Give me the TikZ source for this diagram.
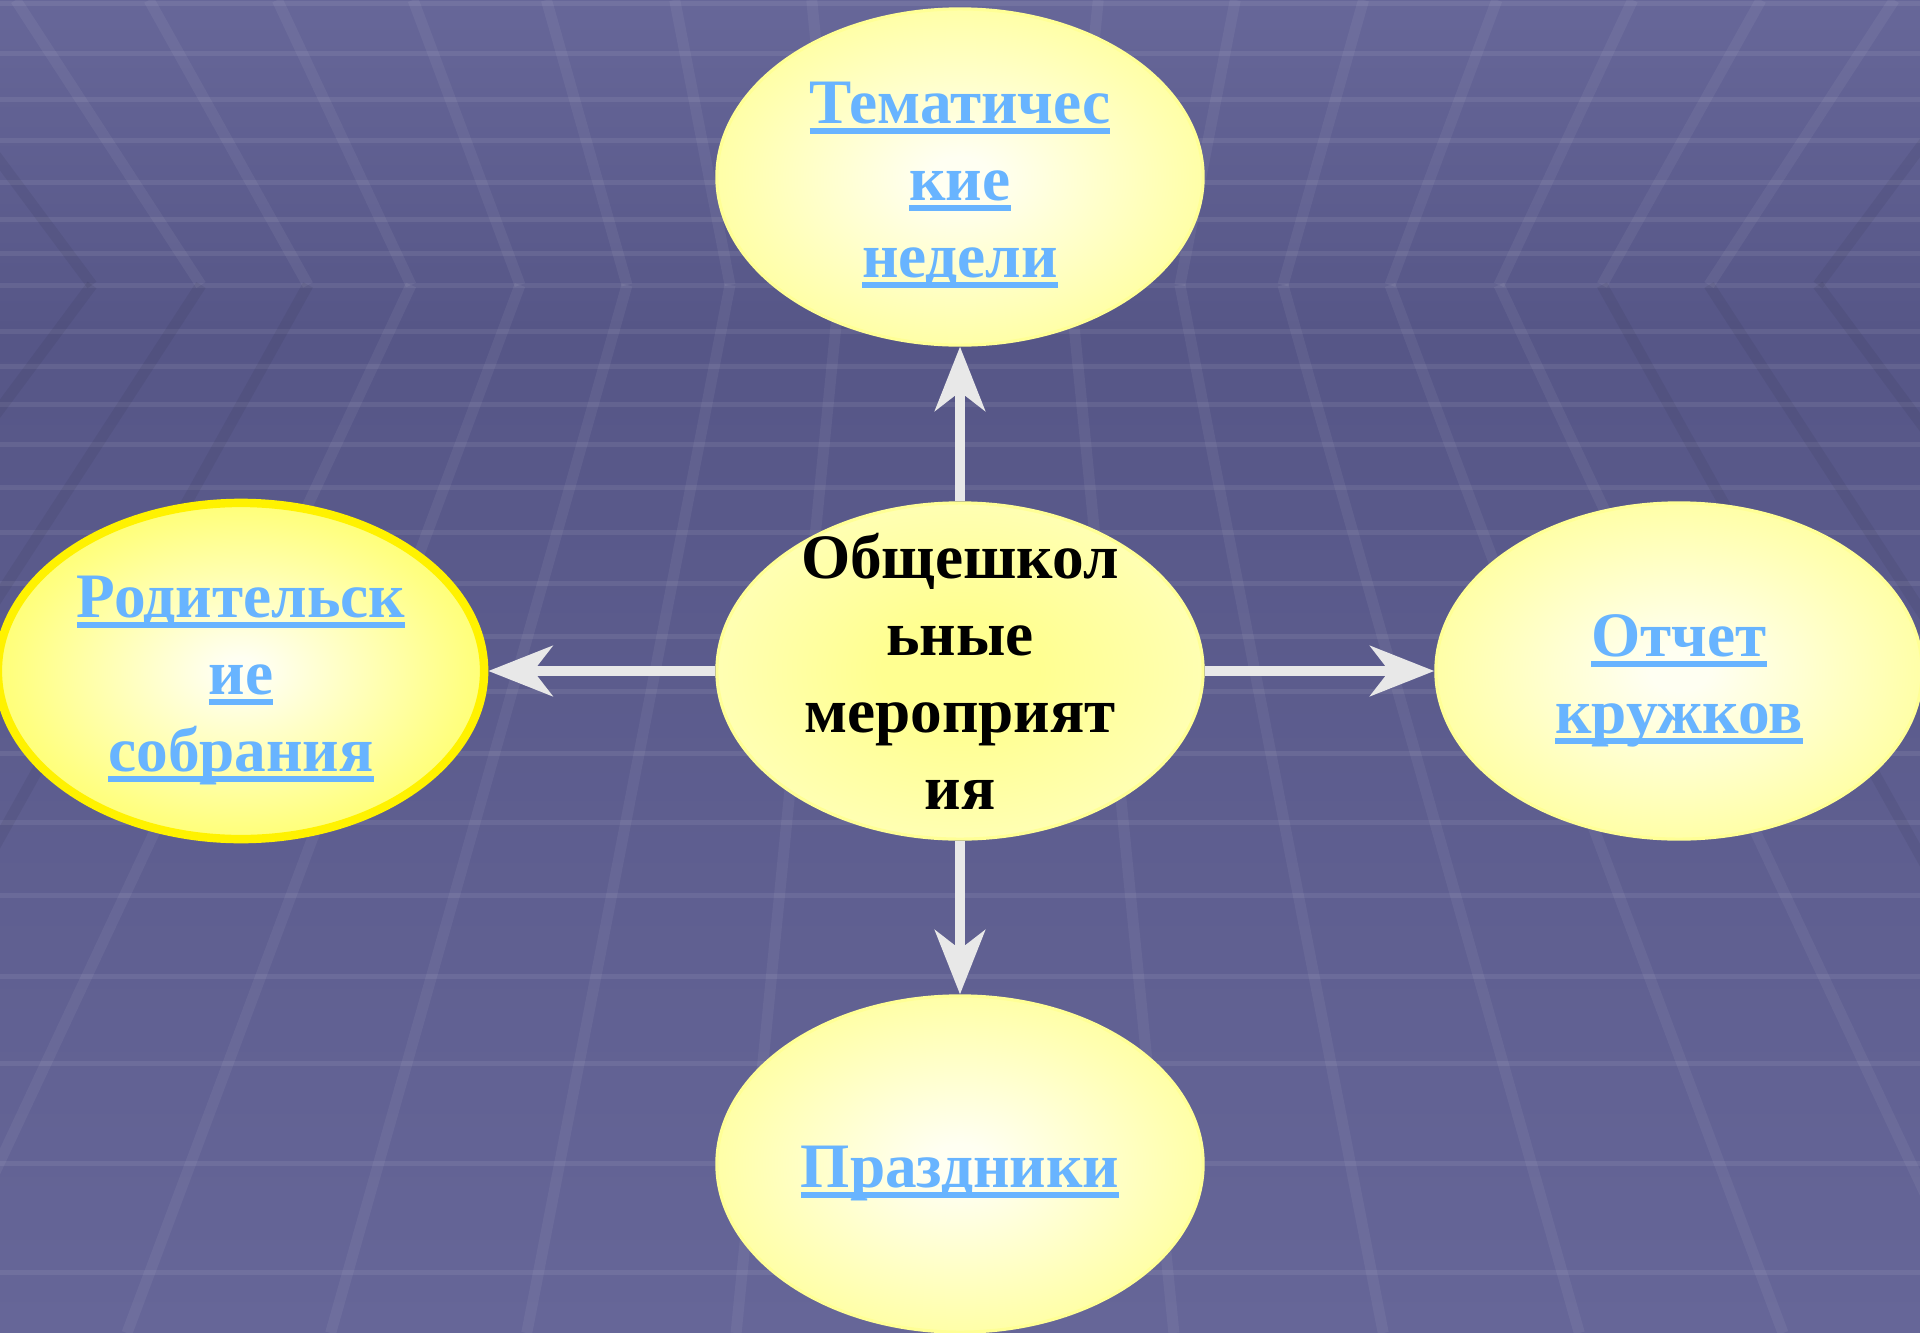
\documentclass[tikz,border=0pt]{standalone}
\usepackage{fontspec}
\setmainfont{Liberation Serif}
\usepackage{xcolor}
\usepackage{tikz}
\usetikzlibrary{shapes.geometric,arrows.meta}

\definecolor{bgtop}{RGB}{103,103,153}
\definecolor{bgmid}{RGB}{86,86,135}
\definecolor{bgbot}{RGB}{102,102,152}
\definecolor{linkblue}{RGB}{104,180,255}
\definecolor{arrowgray}{RGB}{232,232,232}
\definecolor{paleyellow}{RGB}{255,255,110}
\definecolor{creamwhite}{RGB}{255,255,242}
\definecolor{brightyellow}{RGB}{255,255,40}
\definecolor{rimyellow}{RGB}{255,255,150}
\definecolor{hubcore}{RGB}{255,255,145}
\definecolor{hubedge}{RGB}{255,255,228}

\pgfdeclareradialshading{bubbleglow}{\pgfpoint{0bp}{0bp}}{color(0bp)=(creamwhite); color(3bp)=(creamwhite); color(42bp)=(paleyellow); color(72bp)=(paleyellow)}
\pgfdeclareradialshading{parentglow}{\pgfpoint{0bp}{0bp}}{color(0bp)=(creamwhite); color(2bp)=(creamwhite); color(40bp)=(brightyellow); color(72bp)=(brightyellow)}
\pgfdeclareradialshading{hubglow}{\pgfpoint{0bp}{0bp}}{color(0bp)=(hubcore); color(8bp)=(hubcore); color(50bp)=(hubedge); color(72bp)=(hubedge)}

\newsavebox\linkbox
\newcommand\ulink[1]{\sbox\linkbox{#1}\rlap{\rule[-0.16em]{\wd\linkbox}{0.095em}}\usebox\linkbox}

\begin{document}
\begin{tikzpicture}[x=0.01cm, y=-0.01cm,
        bubble/.style={ellipse, minimum width=4.86cm, minimum height=3.36cm, inner sep=0pt, draw=rimyellow, line width=0.9pt, shade, shading=bubbleglow},
        parent/.style={bubble, draw=yellow, line width=2.4pt, shading=parentglow},
        hub/.style={bubble, shading=hubglow},
        words/.style={align=center, text depth=0pt, font=\bfseries\fontsize{18}{21.9}\selectfont},
        linkwords/.style={words, text=linkblue, yshift=-0.03cm},
        spoke/.style={draw=arrowgray, line width=0.1cm, -{Stealth[length=0.64cm, width=0.5cm, inset=0.19cm]}},
        rung/.style={draw=white, draw opacity=0.075, line width=0.05cm},
        rail/.style={draw opacity=0.055, line width=0.11cm}]
        \useasboundingbox (0,0) rectangle (1920,1333);
        \shade[top color=bgtop, bottom color=bgmid] (0,0) rectangle (1920,330);
        \shade[top color=bgmid, bottom color=bgbot] (0,330) rectangle (1920,1333);
        \foreach \y in {3,53,99,140,182,219,253,285,331,366,404,444,487,532,583,636,691,753,822,895,976,1063,1163,1272}
            \draw[rung] (0,\y) -- (1920,\y);
        \foreach \xh/\cu/\cl in {92/black/black, 201/white/black, 308/white/black, 411/white/white, 520/white/white, 627/white/white, 730/white/white, 840/white/white, 1070/white/white, 1180/white/white, 1283/white/white, 1390/white/white, 1499/white/white, 1602/white/black, 1709/white/black, 1818/black/black} {
            \pgfmathsetmacro\sl{(955-\xh)/1160}
            \draw[rail, draw=\cu] (\xh-\sl*285,0) -- (\xh,285);
            \draw[rail, draw=\cl] (\xh,285) -- (\xh-\sl*1048,1333);
        }

        \node[hub] (hub) at (960,671) {};
        \node[bubble] (topic) at (960,177) {};
        \node[parent] (parents) at (241,671) {};
        \node[bubble] (clubs) at (1679,671) {};
        \node[bubble] (holidays) at (960,1164) {};

        \node[words] (hubtext) at (hub) {Общешкол\\ьные\\мероприят\\ия};
        \node[linkwords] (topictext) at (topic) {\ulink{Тематичес}\\\ulink{кие}\\\ulink{недели}};
        \node[linkwords] (parentstext) at (parents) {\ulink{Родительск}\\\ulink{ие}\\\ulink{собрания}};
        \node[linkwords] (clubstext) at (clubs) {\ulink{Отчет}\\\ulink{кружков}};
        \node[linkwords] (holidaystext) at (holidays) {\ulink{Праздники}};

        \draw[spoke] (hub) -- (topic);
        \draw[spoke] (hub) -- (parents);
        \draw[spoke] (hub) -- (clubs);
        \draw[spoke] (hub) -- (holidays);
\end{tikzpicture}
\end{document}
